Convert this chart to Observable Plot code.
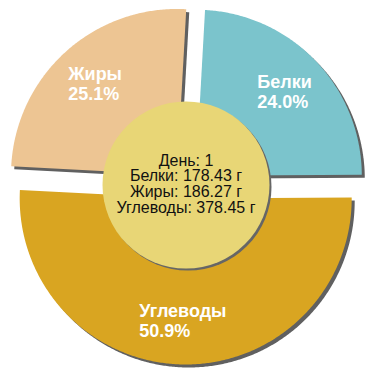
<!DOCTYPE html>
<html>
<head>
<meta charset="utf-8">
<script src="https://cdn.jsdelivr.net/npm/d3@7"></script>
<script src="https://cdn.jsdelivr.net/npm/@observablehq/plot@0.6"></script>
<style>
  html, body { margin: 0; padding: 0; background: #fff; }
  #chart { width: 370px; height: 370px; }
</style>
</head>
<body>
<div id="chart"></div>
<script>
// ---- data ----
const day = 1;
const categories = ["Белки", "Жиры", "Углеводы"];
const grams = [178.43, 186.27, 378.45];
const colors = ["#7bc4cc", "#edc593", "#d9a521"];
// clockwise drawing order of slices
const sliceOrder = ["Белки", "Углеводы", "Жиры"];

// ---- geometry ----
const W = 370, H = 370;
const R = 166;          // outer radius
const explode = 13.5;   // slice offset
const labelDist = 136;
const holeR = 83.5;
const startDeg = 3.2;

const total = d3.sum(grams);
const rows = sliceOrder.map(n => {
  const i = categories.indexOf(n);
  return {name: n, value: grams[i], pct: (grams[i] / total * 100).toFixed(1) + "%"};
});
const start = startDeg * Math.PI / 180;
const arcs = d3.pie().sort(null).value(d => d.value).startAngle(start).endAngle(start + 2 * Math.PI)(rows);

const pts = [];
for (const a of arcs) {
  const mid = (a.startAngle + a.endAngle) / 2;
  const ox = explode * Math.sin(mid), oy = -explode * Math.cos(mid);
  pts.push({name: a.data.name, x: ox, y: oy});
  const n = Math.max(2, Math.ceil((a.endAngle - a.startAngle) / (Math.PI / 360)));
  for (let k = 0; k <= n; k++) {
    const t = a.startAngle + (a.endAngle - a.startAngle) * k / n;
    pts.push({name: a.data.name, x: ox + R * Math.sin(t), y: oy - R * Math.cos(t)});
  }
  pts.push({name: a.data.name, x: ox, y: oy});
}

const labelFont = "bold 18px 'Liberation Sans', Arial, sans-serif";
const ctx = document.createElement("canvas").getContext("2d");
ctx.font = labelFont;
const labels = arcs.map(a => {
  const mid = (a.startAngle + a.endAngle) / 2;
  const lines = [a.data.name, a.data.pct];
  const w = d3.max(lines, s => ctx.measureText(s).width);
  return {text: lines.join("\n"), x: labelDist * Math.sin(mid) - w / 2, y: -labelDist * Math.cos(mid)};
});

const centerText = [
  `День: ${day}`,
  ...categories.map((c, i) => `${c}: ${grams[i].toFixed(2)} г`)
].join("\n");

const chart = Plot.plot({
  width: W, height: H,
  margin: 0,
  x: {domain: [-185.5, 184.5], range: [0, W], axis: null},
  y: {domain: [-184.5, 185.5], range: [0, H], axis: null},
  color: {domain: categories, range: colors},
  style: {background: "#fff", fontFamily: "'Liberation Sans', Arial, sans-serif"},
  marks: [
    Plot.line(pts, {x: "x", y: "y", z: "name", fill: "#606060", stroke: "none", dx: 3, dy: 3, curve: "linear"}),
    Plot.line(pts, {x: "x", y: "y", z: "name", fill: "name", stroke: "none", curve: "linear"}),
    Plot.dot([{x: 0, y: 0}], {x: "x", y: "y", r: holeR, fill: "#666", stroke: "none", dx: 2, dy: 2}),
    Plot.dot([{x: 0, y: 0}], {x: "x", y: "y", r: holeR, fill: "#e8d676", stroke: "none"}),
    Plot.text(labels, {x: "x", y: "y", text: "text", textAnchor: "start", lineAnchor: "middle",
      fill: "#fff", fontSize: 18, fontWeight: "bold", lineHeight: 1.11}),
    Plot.text([{x: 0, y: 0}], {x: "x", y: "y", text: () => centerText, textAnchor: "middle", lineAnchor: "middle",
      fill: "#111", fontSize: 16, lineHeight: 0.98, dy: -1})
  ]
});
document.getElementById("chart").appendChild(chart);
</script>
</body>
</html>
